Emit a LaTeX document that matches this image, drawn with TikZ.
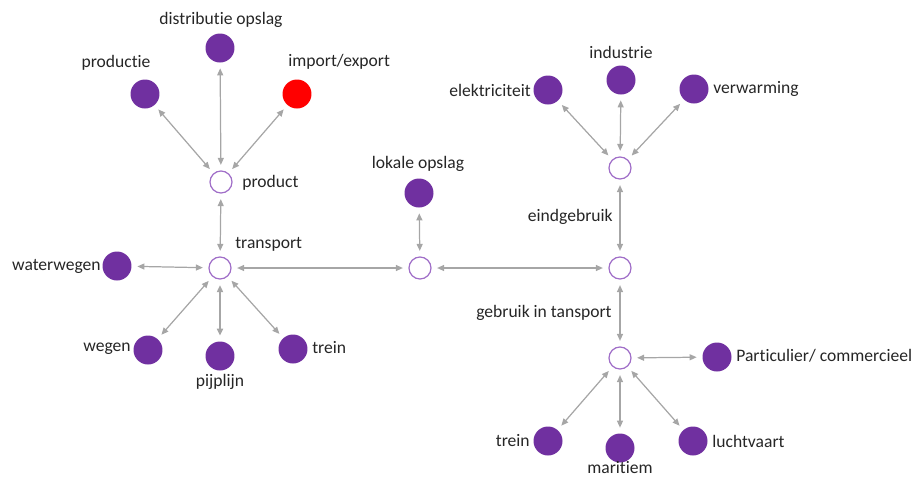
\documentclass[tikz,border=0pt]{standalone}
\usepackage{fontspec}
\setmainfont{Carlito}[Ligatures={NoCommon}]
\usetikzlibrary{arrows.meta}
\definecolor{hpurple}{RGB}{112,48,160}
\definecolor{hring}{RGB}{160,110,200}
\definecolor{hred}{RGB}{255,0,0}
\definecolor{hline}{RGB}{166,166,166}
\definecolor{htext}{RGB}{38,38,38}
\tikzset{
  hub/.style={circle, draw=hring, line width=0.7pt, fill=white,
              minimum size=0.44cm, inner sep=0pt},
  dot/.style={circle, fill=#1, minimum size=0.58cm, inner sep=0pt},
  dot/.default=hpurple,
  lbl/.style={font=\fontsize{10}{12}\selectfont, text=htext, inner sep=0pt},
  flow/.style={{Triangle[length=1.4mm,width=1.2mm]}-{Triangle[length=1.4mm,width=1.2mm]},
               draw=hline, line width=0.7pt, shorten <=0.11cm, shorten >=0.11cm}
}
\begin{document}
\begin{tikzpicture}[x=0.02cm,y=-0.02cm]
  \useasboundingbox (0,0) rectangle (917,478);

  % hubs
  \node[hub] (product) at (221,182) {};
  \node[hub] (transport) at (220,268) {};
  \node[hub] (mid) at (420,268) {};
  \node[hub] (eind) at (620,268) {};
  \node[hub] (useend) at (620,168) {};
  \node[hub] (usetr) at (620,358) {};

  % endpoints
  \node[dot] (productie) at (145,94) {};
  \node[dot] (distr) at (220,48) {};
  \node[dot=hred] (import) at (297,94) {};
  \node[dot] (water) at (117,266) {};
  \node[dot] (wegen) at (148,350) {};
  \node[dot] (pijp) at (220,356) {};
  \node[dot] (treinA) at (293,349) {};
  \node[dot] (lokaal) at (419,193) {};
  \node[dot] (elek) at (548,90) {};
  \node[dot] (industrie) at (621,80) {};
  \node[dot] (warmte) at (694,89) {};
  \node[dot] (partic) at (717,357) {};
  \node[dot] (treinB) at (548,441) {};
  \node[dot] (maritiem) at (620,448) {};
  \node[dot] (lucht) at (693,441) {};

  % labels
  \node[lbl] (tproductie) at (116,63) {productie};
  \node[lbl] (tdistr) at (221,20) {distributie opslag};
  \node[lbl, anchor=west] (timport) at (288,62) {import/export};
  \node[lbl, anchor=west] (tproduct) at (242,183) {product};
  \node[lbl, anchor=west] (ttransport) at (235,244) {transport};
  \node[lbl, anchor=east] (twater) at (101,266) {waterwegen};
  \node[lbl, anchor=east] (twegen) at (131,349) {wegen};
  \node[lbl] (tpijp) at (220,382) {pijplijn};
  \node[lbl, anchor=west] (ttreinA) at (312,348) {trein};
  \node[lbl] (tlokaal) at (418,164) {lokale opslag};
  \node[lbl, anchor=east] (teind) at (613,217) {eindgebruik};
  \node[lbl, anchor=east] (tusetr) at (612,313) {gebruik in tansport};
  \node[lbl, anchor=east] (telek) at (531,90) {elektriciteit};
  \node[lbl] (tindustrie) at (621,52) {industrie};
  \node[lbl, anchor=west] (twarmte) at (713,89) {verwarming};
  \node[lbl, anchor=west] (tpartic) at (736,356) {Particulier/ commercieel};
  \node[lbl, anchor=east] (ttreinB) at (530,441) {trein};
  \node[lbl] (tmaritiem) at (620,468) {maritiem};
  \node[lbl, anchor=west] (tlucht) at (712,441) {luchtvaart};

  % connectors
  \draw[flow] (product) -- (productie);
  \draw[flow] (product) -- (distr);
  \draw[flow] (product) -- (import);
  \draw[flow] (product) -- (transport);
  \draw[flow] (transport) -- (water);
  \draw[flow] (transport) -- (wegen);
  \draw[flow, line width=1.1pt] (transport) -- (pijp);
  \draw[flow] (transport) -- (treinA);
  \draw[flow] (transport) -- (mid);
  \draw[flow] (mid) -- (lokaal);
  \draw[flow] (mid) -- (eind);
  \draw[flow] (eind) -- (useend);
  \draw[flow] (eind) -- (usetr);
  \draw[flow] (useend) -- (elek);
  \draw[flow] (useend) -- (industrie);
  \draw[flow] (useend) -- (warmte);
  \draw[flow] (usetr) -- (partic);
  \draw[flow] (usetr) -- (treinB);
  \draw[flow] (usetr) -- (maritiem);
  \draw[flow] (usetr) -- (lucht);
\end{tikzpicture}
\end{document}
